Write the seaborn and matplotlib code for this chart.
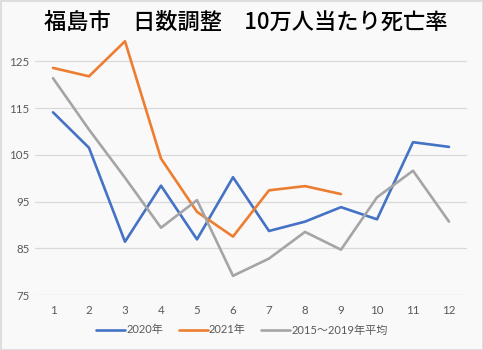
import matplotlib
matplotlib.use("Agg")
import matplotlib.pyplot as plt
import seaborn as sns
import pandas as pd
from matplotlib.patches import Rectangle

months = [1, 2, 3, 4, 5, 6, 7, 8, 9, 10, 11, 12]
y2020 = [114.1, 106.5, 86.4, 98.4, 86.9, 100.2, 88.7, 90.7, 93.8, 91.2, 107.7, 106.7]
y2021 = [123.6, 121.8, 129.3, 104.2, 92.8, 87.5, 97.4, 98.3, 96.6]
yavg = [121.4, 110.4, 100.1, 89.4, 95.3, 79.1, 82.8, 88.5, 84.7, 95.9, 101.6, 90.7]
series_names = ["2020年", "2021年", "2015～2019年平均"]
yticks = [75, 85, 95, 105, 115, 125]
title = "福島市　日数調整　10万人当たり死亡率"

rows = []
for name, vals in zip(series_names, [y2020, y2021, yavg]):
    for m, v in zip(months, vals):
        rows.append({"month": m, "value": v, "series": name})
df = pd.DataFrame(rows)

sns.set_theme(style="white")
plt.rcParams['font.family'] = ['Lato', 'Noto Sans CJK JP', 'DejaVu Sans']

fig = plt.figure(figsize=(4.83, 3.5), dpi=100, facecolor="#f9f9f9")
ax = fig.add_axes([35/483, 1-295/350, 432/483, 257/350])
ax.set_facecolor("#f9f9f9")

palette = {"2020年": "#4472C4", "2021年": "#ED7D31", "2015～2019年平均": "#A5A5A5"}
sns.lineplot(data=df, x="month", y="value", hue="series", palette=palette,
             hue_order=series_names, linewidth=1.9, sort=False, ax=ax, legend=True)

ax.set_xlim(0.5, 12.5)
ax.set_ylim(75, 130)
ax.set_yticks(yticks)
ax.set_xticks(months)
ax.set_xticklabels([str(m) for m in months])
ax.grid(axis="y", color="#d9d9d9", linewidth=0.9)
ax.grid(axis="x", visible=False)
for s in ax.spines.values():
    s.set_visible(False)
ax.tick_params(axis="both", length=0, labelsize=8.3, colors="#595959")
ax.tick_params(axis="y", pad=4)
ax.tick_params(axis="x", pad=7)
ax.set_xlabel("")
ax.set_ylabel("")

handles, labels = ax.get_legend_handles_labels()
ax.legend_.remove()
fig.legend(handles, labels, loc="center", bbox_to_anchor=(242/483, 1-330/350),
           ncol=3, frameon=False, fontsize=8, handlelength=2.6,
           handletextpad=0.1, columnspacing=1.4, labelcolor="#595959")

fig.text(246/483, 1-22/350, title, ha="center", va="center", fontsize=16,
         fontweight="medium", color="black", family=['Noto Sans CJK JP', 'DejaVu Sans'])

fig.patches.append(Rectangle((0.5/483, 0.5/350), 1-1/483, 1-1/350, transform=fig.transFigure,
                             fill=False, edgecolor="#d9d9d9", linewidth=1.2))

fig.savefig("out.png", dpi=100, facecolor=fig.get_facecolor())
